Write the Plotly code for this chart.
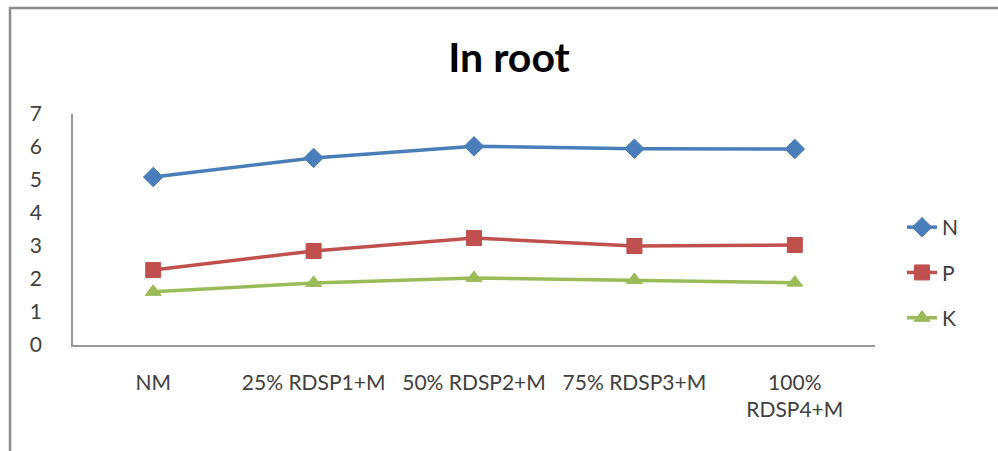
import plotly.graph_objects as go

categories = ["NM", "25% RDSP1+M", "50% RDSP2+M", "75% RDSP3+M", "100%<br>RDSP4+M"]
n_values = [5.09, 5.67, 6.02, 5.95, 5.94]
p_values = [2.27, 2.85, 3.24, 3.00, 3.03]
k_values = [1.61, 1.88, 2.03, 1.97, 1.89]
y_ticks = [0, 1, 2, 3, 4, 5, 6, 7]

series = [
    ("N", n_values, "#4A7EBB", "diamond", 15),
    ("P", p_values, "#C0504D", "square", 15),
    ("K", k_values, "#9BBB59", "triangle-up", 14),
]

fig = go.Figure()
for name, vals, color, sym, size in series:
    fig.add_trace(go.Scatter(
        x=categories, y=vals, name=name, mode="lines+markers",
        legendgroup=name,
        line=dict(color=color, width=3.5),
        marker=dict(symbol=sym, size=size, color=color,
                    line=dict(color=color, width=1)),
    ))

font_family = "Lato, 'Open Sans', sans-serif"
L, R, T, B = 73, 123, 114, 106
W, H = 998, 451
pw, ph = W - L - R, H - T - B

def px_x(px):
    return (px - L) / pw

def px_y(py):
    return (H - B - py) / ph

fig.update_layout(
    width=W, height=H,
    margin=dict(l=L, r=R, t=T, b=B),
    paper_bgcolor="white", plot_bgcolor="white",
    font=dict(family=font_family, size=21, color="#404040"),
    title=dict(text="<b>In root</b>", x=px_x(509), xref="paper", xanchor="center",
               y=1 - 58 / H, yref="container", yanchor="middle",
               font=dict(family=font_family, size=41, color="#000000")),
    showlegend=True,
    legend=dict(x=px_x(902), y=px_y(207), xanchor="left", yanchor="top",
                tracegroupgap=15, font=dict(size=21, color="#404040"),
                bgcolor="rgba(0,0,0,0)"),
    xaxis=dict(range=[-0.5, 4.5], showgrid=False, showline=True, linecolor="#9a9a9a",
               linewidth=1.5, ticks="", ticklabelstandoff=18,
               tickfont=dict(size=21, color="#404040"), zeroline=False),
    yaxis=dict(range=[0, 7], tickvals=y_ticks, showgrid=False, showline=True,
               linecolor="#9a9a9a", linewidth=1.5, ticks="", ticklabelstandoff=25,
               tickfont=dict(size=21, color="#404040"), zeroline=False),
    shapes=[dict(type="rect", xref="paper", yref="paper",
                 x0=px_x(10), x1=px_x(1005), y0=px_y(460), y1=px_y(8),
                 line=dict(color="#8c8c8c", width=2.5), fillcolor="rgba(0,0,0,0)",
                 layer="below")],
)

fig.write_html("out.html")
